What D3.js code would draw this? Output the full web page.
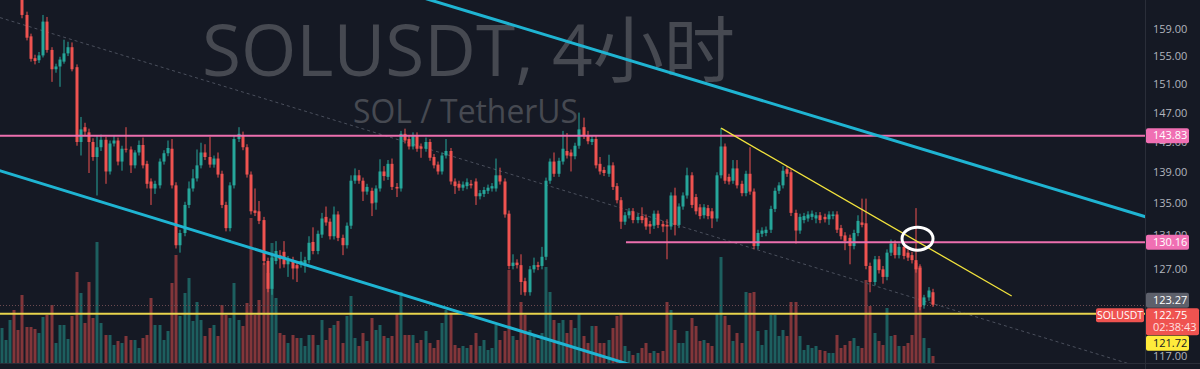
<!DOCTYPE html>
<html><head><meta charset="utf-8">
<script src="https://cdn.jsdelivr.net/npm/d3@7"></script>
<style>html,body{margin:0;padding:0;background:#151924;overflow:hidden}svg{display:block}</style>
</head><body><svg id="c" width="1200" height="369"></svg>
<script>
// ---------------- DATA ----------------
const symbol = "SOLUSDT";
const watermarkTitle = "SOLUSDT, 4小时";
const watermarkSub = "SOL / TetherUS";
const opens = [168,169.5,170.5,171.5,168,166,161.1,157.9,154.7,154.4,
155.1,160.1,155.9,153.1,153.5,154.2,155.4,156.3,153.4,143.0,
145.0,144.3,143.0,141.0,142.3,143.3,139.1,142.8,143.2,140.4,
142.1,142.0,139.9,141.6,142.6,140.1,137.8,136.9,137.3,140.4,
141.5,142.1,137.3,129.8,131.3,134.8,136.9,138.2,139.9,141.6,
141.0,140.0,140.8,138.8,134.8,131.9,137.3,143.4,143.8,142.3,
138.7,134.1,134.0,132.9,127.9,124.6,127.9,128.6,129.0,127.5,
128.0,127.4,127.5,127.5,128.0,130.2,129.1,131.1,133.3,132.7,
130.9,133.6,130.7,129.8,132.2,137.9,138.6,137.9,136.5,136.6,
135.1,136.9,139.1,138.4,140.1,137.1,136.9,144.1,143.4,142.4,
143.9,142.4,142.1,143.0,141.0,140.0,139.1,141.2,141.8,137.8,
137.5,137.0,137.2,137.5,137.8,135.9,136.2,136.6,136.9,136.9,
138.6,137.8,133.7,127.3,127.7,127.4,125.5,124.2,126.9,127.4,
127.3,128.4,137.9,140.4,138.8,140.4,141.8,141.6,141.1,142.5,
145.0,143.8,143.0,143.4,140.1,139.3,138.8,139.9,137.2,135.4,
132.7,133.5,134.0,132.9,133.4,133.2,132.4,132.2,133.7,132.4,
132.3,132.1,136.0,132.3,134.6,136.0,138.6,135.8,134.5,133.5,
134.4,134.0,133.1,138.6,142.4,138.4,137.9,139.5,137.5,136.3,
138.8,136.5,129.7,131.2,131.3,131.7,134.3,136.6,137.3,139.4,
139.0,133.8,131.6,132.9,133.1,133.3,133.1,133.5,133.3,133.0,
133.4,133.6,131.9,131.0,130.7,129.7,131.3,132.6,132.5,127.3,
125.4,128.1,126.9,126.0,128.9,130.0,128.6,129.6,128.9,128.6,
128.0,127.1,122.7,123.6,124.2];
const highs = [170,171,172,172,168.5,166.5,161.6,158.3,155.2,155.6,
161.1,160.8,156.3,153.9,154.9,157.4,157.1,157.0,153.8,146.4,
145.6,144.8,143.5,143.8,144.0,143.7,143.2,143.8,143.6,142.5,
145.0,142.4,141.9,143.2,143.6,140.5,138.2,137.9,140.8,141.9,
143.2,143.4,137.7,131.7,135.2,137.8,139.4,142.0,142.9,142.7,
143.7,141.2,141.6,139.2,135.2,137.7,143.8,145.0,144.4,142.7,
139.1,136.9,135.3,133.3,128.3,128.7,130.3,129.2,130.3,128.5,
128.4,127.8,129.0,128.4,130.9,132.0,131.6,133.8,134.6,133.1,
134.6,134.0,131.1,132.6,138.6,139.5,139.3,138.3,137.5,137.0,
137.3,140.7,139.8,140.6,140.8,137.6,144.5,144.8,143.8,144.3,
144.3,142.8,143.6,143.4,141.4,140.4,141.6,143.4,142.2,138.2,
137.9,137.8,138.2,138.0,138.2,136.7,137.1,137.4,137.6,140.8,
139.6,138.2,134.1,128.7,128.1,128.7,125.9,127.3,128.3,127.8,
129.6,138.3,140.8,141.6,140.9,144.5,144.2,142.0,142.9,147.0,
146.3,144.5,143.9,143.8,141.0,139.7,141.3,140.3,137.6,135.8,
133.9,134.4,134.4,133.7,134.5,133.6,132.8,134.1,134.1,132.8,
133.0,136.4,137.0,135.0,136.4,139.6,139.0,136.2,134.9,134.9,
134.8,134.4,139.0,144.9,142.8,138.8,140.6,140.6,137.9,139.2,
142.3,136.9,131.7,132.0,132.1,134.7,137.0,137.7,139.8,139.8,
139.4,134.2,133.7,133.8,134.0,134.1,133.9,133.9,133.7,134.0,
134.0,134.0,132.3,131.4,131.1,131.7,133.5,135.6,135.6,127.7,
128.5,128.5,127.3,129.3,130.5,130.4,130.0,130.0,129.3,129.0,
134.4,127.5,123.9,124.8,124.6];
const lows = [167.5,169,170,167.5,165.5,160.6,157.3,154.2,153.8,154.0,
154.8,155.5,151.3,152.6,150.6,153.9,155.0,152.8,142.5,141.2,
143.9,138.9,140.5,136.0,141.8,137.5,138.7,142.4,139.9,139.2,
141.6,138.9,139.5,141.2,139.5,136.9,134.8,136.2,136.9,140.0,
141.1,136.9,129.4,128.9,130.9,134.4,136.5,137.8,139.5,140.6,
139.6,139.6,138.3,134.4,131.5,131.5,136.9,143.0,141.9,138.3,
133.6,133.4,132.4,127.4,124.2,123.9,127.5,127.0,127.1,126.0,
125.7,125.4,127.1,126.5,127.6,128.7,128.7,130.7,132.2,130.5,
130.5,130.3,128.6,129.4,131.8,137.5,137.5,135.3,136.1,133.4,
134.2,136.5,137.9,138.0,136.7,135.8,136.5,142.8,142.0,142.0,
141.7,140.9,141.7,140.5,139.5,138.7,138.7,140.8,137.4,136.2,
136.6,136.6,136.8,136.9,134.8,135.5,135.8,136.2,136.5,136.5,
137.4,133.2,126.9,126.9,127.0,123.9,123.8,123.8,126.5,126.8,
126.9,128.0,137.5,138.4,138.4,140.0,140.8,139.1,140.7,142.1,
143.4,142.7,142.6,139.5,138.7,138.5,138.4,136.7,135.0,131.8,
132.3,133.1,132.5,132.5,132.5,131.7,131.2,131.8,131.9,131.4,
128.1,131.7,131.0,131.9,134.2,135.6,134.4,133.6,133.0,133.1,
133.0,131.9,132.7,138.2,137.5,137.4,137.5,136.9,135.9,135.9,
136.1,129.3,129.3,130.8,130.9,131.3,133.9,136.2,136.9,138.4,
133.4,130.0,131.2,132.5,132.7,132.9,132.5,132.5,132.6,132.3,
133.0,131.3,130.5,129.2,127.5,129.3,130.9,132.0,126.9,124.2,
125.0,126.4,125.2,125.6,128.5,128.2,128.2,128.1,127.9,127.6,
126.5,122.1,122.3,123.2,122.5];
const closes = [169.5,170.5,171.5,168,166,161.1,157.7,154.6,154.3,155.1,
160.1,155.9,153.1,153.5,154.5,155.4,156.3,153.1,143.0,144.7,
144.4,143.0,141.0,142.3,143.3,139.1,142.8,143.2,140.4,142.1,
142.0,139.9,141.6,142.6,139.9,137.5,136.9,137.5,140.4,141.5,
142.2,137.3,129.8,131.3,134.8,136.9,138.2,139.9,141.6,141.0,
140.0,140.8,138.7,134.8,131.9,137.3,143.4,144.1,142.3,138.7,
134.0,133.8,132.8,127.9,124.6,128.3,129.1,128.1,127.5,128.1,
127.0,127.0,127.9,128.0,130.1,129.1,131.2,133.1,132.6,130.9,
133.6,130.7,129.8,132.2,137.9,138.6,137.9,136.5,137.1,135.0,
136.9,139.1,138.5,140.1,137.1,136.9,144.1,143.2,142.4,143.9,
142.1,142.1,143.0,140.9,139.9,139.1,141.2,141.8,137.8,137.2,
137.0,137.4,137.7,137.3,135.9,136.3,136.7,137.0,137.2,138.6,
137.8,133.6,127.3,127.7,127.4,125.4,124.2,126.9,127.4,127.2,
128.4,137.9,140.4,138.8,140.5,142.1,141.2,141.1,142.5,144.7,
143.8,143.1,143.4,139.9,139.1,138.9,139.9,137.1,135.4,132.7,
133.5,134.0,132.9,133.3,132.9,132.1,132.1,133.7,132.3,132.1,
132.1,136.0,132.3,134.6,136.0,138.6,134.8,134.0,133.4,134.5,
133.4,133.1,138.6,142.4,137.9,137.8,139.5,137.3,136.3,138.8,
136.5,129.7,131.3,131.6,131.7,134.3,136.6,137.3,139.2,138.8,
133.8,131.6,133.3,133.4,133.6,133.7,133.5,132.9,133.0,133.6,
133.6,131.7,130.9,130.3,129.7,131.3,132.8,132.3,127.3,125.4,
128.1,126.8,126.0,128.9,130.0,128.6,129.6,128.5,128.3,128.0,
126.9,122.5,123.6,124.4,122.75];
const volumes = [35,23,43,53,33,68,36,36,34,30,
46,48,58,20,38,38,24,47,91,70,
40,81,45,121,40,28,28,18,22,20,
27,23,23,15,25,28,65,38,38,23,
32,80,108,47,70,85,42,61,43,27,
35,38,27,58,48,45,80,43,37,60,
145,48,63,100,90,120,65,30,28,20,
28,25,25,17,28,28,18,43,23,35,
38,42,20,47,67,25,17,30,22,45,
33,38,27,25,27,50,71,28,28,28,
20,23,32,20,15,23,40,53,50,18,
15,17,15,18,30,17,23,13,15,38,
23,32,93,27,23,61,48,33,27,23,
30,96,71,43,40,43,30,43,35,50,
27,20,37,37,20,20,23,35,47,50,
17,12,8,10,15,20,10,12,10,12,
61,53,33,20,20,32,45,37,22,23,
20,17,50,106,47,38,22,30,20,71,
70,71,32,18,33,48,48,27,33,27,
61,61,27,13,18,15,17,13,12,10,
10,28,15,18,22,25,17,15,83,57,
30,22,18,55,27,28,17,17,20,28,
100,97,25,15,7];
const priceTicks = [159,155,151,147,143,139,135,131,127,117];
const pinkLevels = [143.83, 130.16];
const pinkStartIndex = [ -5, 150.2 ];
const yellowLevel = 121.72;
const lastPrice = 122.75;
const prevLabelPrice = 123.27;
const countdown = "02:38:43";
// trend lines: [barIndex, price] anchor pairs
const channelUpper = [[79, 168.1],[275.3, 133.3]];
const channelLower = [[-1, 139.3],[153.6, 115.7]];
const channelMid = [[-0.4, 160.7],[270.8, 116.2]];
const yellowTrend = [[173.1, 144.87],[243.0, 123.76]];
const circleMark = [220.35, 130.6];

// ---------------- LAYOUT ----------------
const W = 1200, H = 369, paneRight = 1145, paneBottom = 363;
const bg = "#151924", up = "#26a69a", down = "#ef5350";
const svg = d3.select("#c");
svg.append("rect").attr("width", W).attr("height", H).attr("fill", bg);

const n = closes.length;
const x = d3.scaleLinear().domain([0, n - 1]).range([1.7, 932.7]);
const y = d3.scaleLog().domain([117, 159]).range([355.9, 28.95]);
const yv = d3.scaleLinear().domain([0, 150]).range([paneBottom, paneBottom - 150]);

svg.append("clipPath").attr("id", "pane").append("rect")
  .attr("x", 0).attr("y", 0).attr("width", paneRight).attr("height", paneBottom);
const pane = svg.append("g").attr("clip-path", "url(#pane)");

// watermark
const wm = pane.append("g").attr("fill", "#464951")
  .style("font-family", "'Open Sans','Noto Sans CJK SC',sans-serif");
wm.append("text").attr("x", 468.5).attr("y", 76).attr("text-anchor", "middle")
  .attr("font-size", 72).attr("textLength", 533).attr("lengthAdjust", "spacingAndGlyphs")
  .text(watermarkTitle);
wm.append("text").attr("x", 465.5).attr("y", 122.5).attr("text-anchor", "middle")
  .attr("font-size", 33).attr("textLength", 225).attr("lengthAdjust", "spacingAndGlyphs")
  .text(watermarkSub);

const idx = d3.range(n);
const isUp = i => closes[i] >= opens[i];
const cx = i => Math.round(x(i));

// volume
pane.append("g").selectAll("rect").data(idx).join("rect")
  .attr("x", i => cx(i) - 1.5).attr("width", 3)
  .attr("y", i => yv(volumes[i])).attr("height", i => yv(0) - yv(volumes[i]))
  .attr("fill", i => isUp(i) ? "rgba(38,166,154,0.5)" : "rgba(239,83,80,0.5)");

// mid dashed channel line
const P = p => [x(p[0]), y(p[1])];
const seg = (g, pts) => g.append("line")
  .attr("x1", P(pts[0])[0]).attr("y1", P(pts[0])[1])
  .attr("x2", P(pts[1])[0]).attr("y2", P(pts[1])[1]);
seg(pane, channelMid).attr("stroke", "#4a4f5c").attr("stroke-width", 1).attr("stroke-dasharray", "3,3");

// current price dotted line
pane.append("line").attr("x1", 0).attr("x2", paneRight)
  .attr("y1", Math.round(y(lastPrice)) + 0.5).attr("y2", Math.round(y(lastPrice)) + 0.5)
  .attr("stroke", "#6b4a50").attr("stroke-width", 1).attr("stroke-dasharray", "1,2");

// candles
const cg = pane.append("g");
cg.selectAll("line").data(idx).join("line")
  .attr("x1", i => cx(i)).attr("x2", i => cx(i))
  .attr("y1", i => y(highs[i])).attr("y2", i => y(lows[i]))
  .attr("stroke", i => isUp(i) ? up : down).attr("stroke-width", 1);
cg.selectAll("rect").data(idx).join("rect")
  .attr("x", i => cx(i) - 1.5).attr("width", 3)
  .attr("y", i => y(Math.max(opens[i], closes[i])))
  .attr("height", i => Math.max(1, y(Math.min(opens[i], closes[i])) - y(Math.max(opens[i], closes[i]))))
  .attr("fill", i => isUp(i) ? up : down);

// horizontal levels
pinkLevels.forEach((lv, k) => {
  pane.append("line").attr("x1", Math.max(0, x(pinkStartIndex[k]))).attr("x2", paneRight)
    .attr("y1", y(lv)).attr("y2", y(lv)).attr("stroke", "#ec6fae").attr("stroke-width", 2);
});
pane.append("line").attr("x1", 0).attr("x2", paneRight)
  .attr("y1", y(yellowLevel)).attr("y2", y(yellowLevel)).attr("stroke", "#e8d44d").attr("stroke-width", 2);

// trend lines
seg(pane, channelUpper).attr("stroke", "#1fb4d2").attr("stroke-width", 3);
seg(pane, channelLower).attr("stroke", "#1fb4d2").attr("stroke-width", 3);
seg(pane, yellowTrend).attr("stroke", "#f2e33c").attr("stroke-width", 1.3);

// circle annotation
pane.append("ellipse").attr("cx", x(circleMark[0])).attr("cy", y(circleMark[1]))
  .attr("rx", 15.5).attr("ry", 11.5).attr("fill", "none").attr("stroke", "#ffffff").attr("stroke-width", 3);

// borders
svg.append("line").attr("x1", paneRight + 0.5).attr("x2", paneRight + 0.5).attr("y1", 0).attr("y2", H)
  .attr("stroke", "#2a2e39");
svg.append("line").attr("x1", 0).attr("x2", W).attr("y1", paneBottom + 0.5).attr("y2", paneBottom + 0.5)
  .attr("stroke", "#2a2e39");

// price axis
const axis = d3.axisRight(y).tickValues(priceTicks).tickFormat(d3.format(".2f")).tickSize(0).tickPadding(8);
const ag = svg.append("g").attr("transform", `translate(${paneRight},0)`).call(axis);
ag.select(".domain").remove();
ag.selectAll("text").attr("fill", "#b2b5be").style("font-size", "11px")
  .style("font-family", "'Open Sans','Liberation Sans',sans-serif");

// axis badges
const font = "'Open Sans','Liberation Sans',sans-serif";
function badge(yTop, h, w, fill, lines, txtColor, xLeft) {
  const g = svg.append("g");
  g.append("rect").attr("x", xLeft).attr("y", yTop).attr("width", w).attr("height", h).attr("rx", 2).attr("fill", fill);
  lines.forEach((t, k) => g.append("text").attr("x", xLeft + 7).attr("y", yTop + 11 + k * 12)
    .attr("fill", txtColor[k]).style("font-size", "11px").style("font-family", font).text(t));
}
pinkLevels.forEach(lv => badge(y(lv) - 7.5, 15, 43, "#f06fb3", [d3.format(".2f")(lv)], ["#ffffff"], paneRight + 1));
// stacked badges near current price (push down to avoid overlap)
const stack = [
  {v: prevLabelPrice, h: 15, w: 43, fill: "#5d606b", lines: [d3.format(".2f")(prevLabelPrice)], tc: ["#ffffff"]},
  {v: lastPrice, h: 27, w: 53, fill: "#ef5350", lines: [d3.format(".2f")(lastPrice), countdown], tc: ["#ffffff", "#ffe0e0"]},
  {v: yellowLevel, h: 15, w: 43, fill: "#ffeb3b", lines: [d3.format(".2f")(yellowLevel)], tc: ["#131722"]}
];
let prevBottom = -Infinity;
stack.forEach(s => {
  const top = Math.max(y(s.v) - 7.5, prevBottom + 0.5);
  s.top = top; prevBottom = top + s.h;
  badge(top, s.h, s.w, s.fill, s.lines, s.tc, paneRight + 1);
});
// symbol label left of last price badge
const lp = stack[1];
svg.append("rect").attr("x", 1096).attr("y", lp.top).attr("width", 48).attr("height", 14).attr("rx", 2).attr("fill", "#ef5350");
svg.append("text").attr("x", 1120).attr("y", lp.top + 10.5).attr("text-anchor", "middle").attr("fill", "#fff")
  .style("font-size", "10.5px").style("font-family", font).text(symbol);
</script></body></html>
